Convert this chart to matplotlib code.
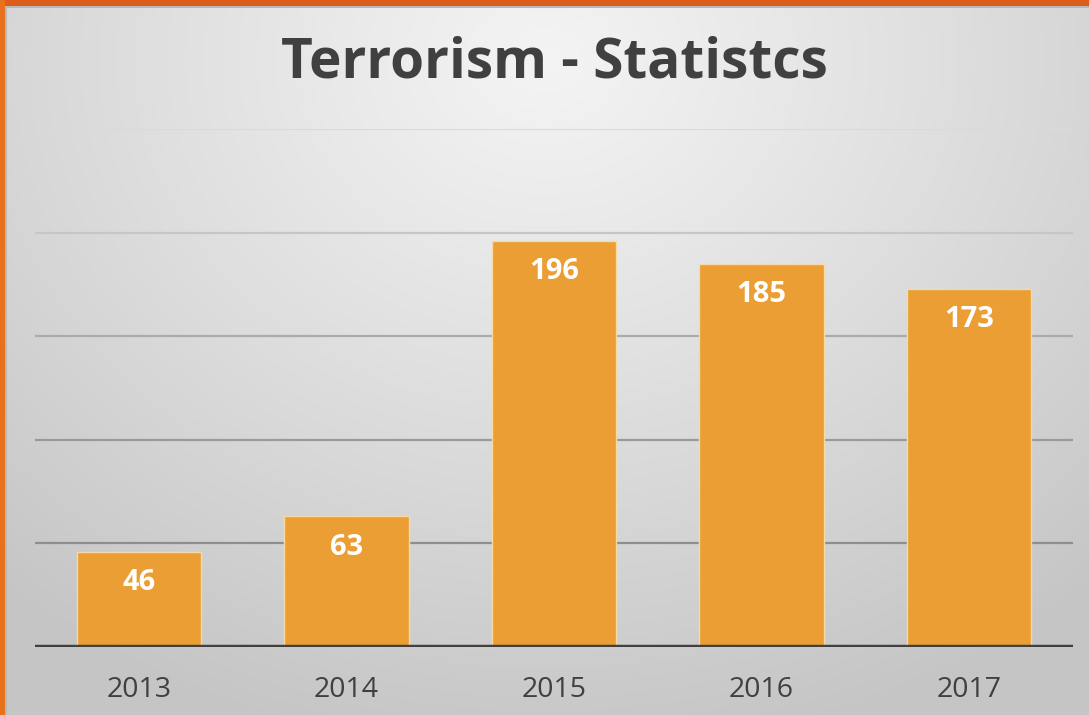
import numpy as np
import matplotlib
matplotlib.use("Agg")
import matplotlib.pyplot as plt
from matplotlib.patches import Rectangle

years = ["2013", "2014", "2015", "2016", "2017"]
values = [46, 63, 196, 185, 173]
title = "Terrorism - Statistcs"

W, H, DPI = 1089, 715, 100
fig = plt.figure(figsize=(W / DPI, H / DPI), dpi=DPI)

# background radial gradient
bg = fig.add_axes([0, 0, 1, 1], zorder=0)
yy, xx = np.mgrid[0:H, 0:W]
d = np.sqrt(((xx - 545) / 1.0) ** 2 + ((yy - 60) / 0.85) ** 2)
t = np.clip(d / 820.0, 0, 1)
c0, c1 = 0.955, 0.775
img = c0 + (c1 - c0) * t ** 1.1
bg.imshow(np.dstack([img, img, img]), extent=[0, W, H, 0], aspect="auto", interpolation="bilinear")
bg.set_xlim(0, W)
bg.set_ylim(H, 0)
bg.axis("off")
# orange borders
bg.add_patch(Rectangle((0, 0), W, 6, color="#DE5C1A", lw=0))
bg.add_patch(Rectangle((0, 0), 5, H, color="#E8711E", lw=0))
bg.add_patch(Rectangle((5, 6), W, 1.5, color="#B8B8B8", lw=0))
bg.add_patch(Rectangle((5, 6), 1.5, H, color="#B8B8B8", lw=0))

x0, x1 = 35, 1073
yb, yt = 647, 129
ax = fig.add_axes([x0 / W, (H - yb) / H, (x1 - x0) / W, (yb - yt) / H], zorder=1)
ax.patch.set_alpha(0)
ax.set_xlim(-0.5, 4.5)
ax.set_ylim(0, 250)

grid_colors = {50: "#8E8E8E", 100: "#9A9A9A", 150: "#ABABAB", 200: "#C6C6C6", 250: "#DADADA"}
for v, c in grid_colors.items():
    ax.axhline(v, color=c, lw=1.6, zorder=1)

xs = np.arange(len(years))
bars = ax.bar(xs, values, width=0.6, color="#EB9E33", edgecolor="#F6D9A6", linewidth=1.0, zorder=2)
ax.axhline(0, color="#404040", lw=3.2, zorder=3)

for x, v in zip(xs, values):
    ax.annotate(str(v), (x, v), xytext=(0, -31), textcoords="offset pixels",
                ha="center", va="center", color="white", fontsize=21, fontweight="bold",
                family="Open Sans", zorder=4)

ax.set_xticks(xs)
ax.set_xticklabels(years, family="Open Sans", fontsize=20.5, color="#404040")
ax.tick_params(axis="x", length=0, pad=21)
ax.set_yticks([])
for s in ax.spines.values():
    s.set_visible(False)

fig.text(554 / W, (H - 63) / H, title, ha="center", va="center", fontsize=39.5, fontweight="bold",
         color="#404040", family="Open Sans")

fig.savefig("out.png", dpi=DPI)
